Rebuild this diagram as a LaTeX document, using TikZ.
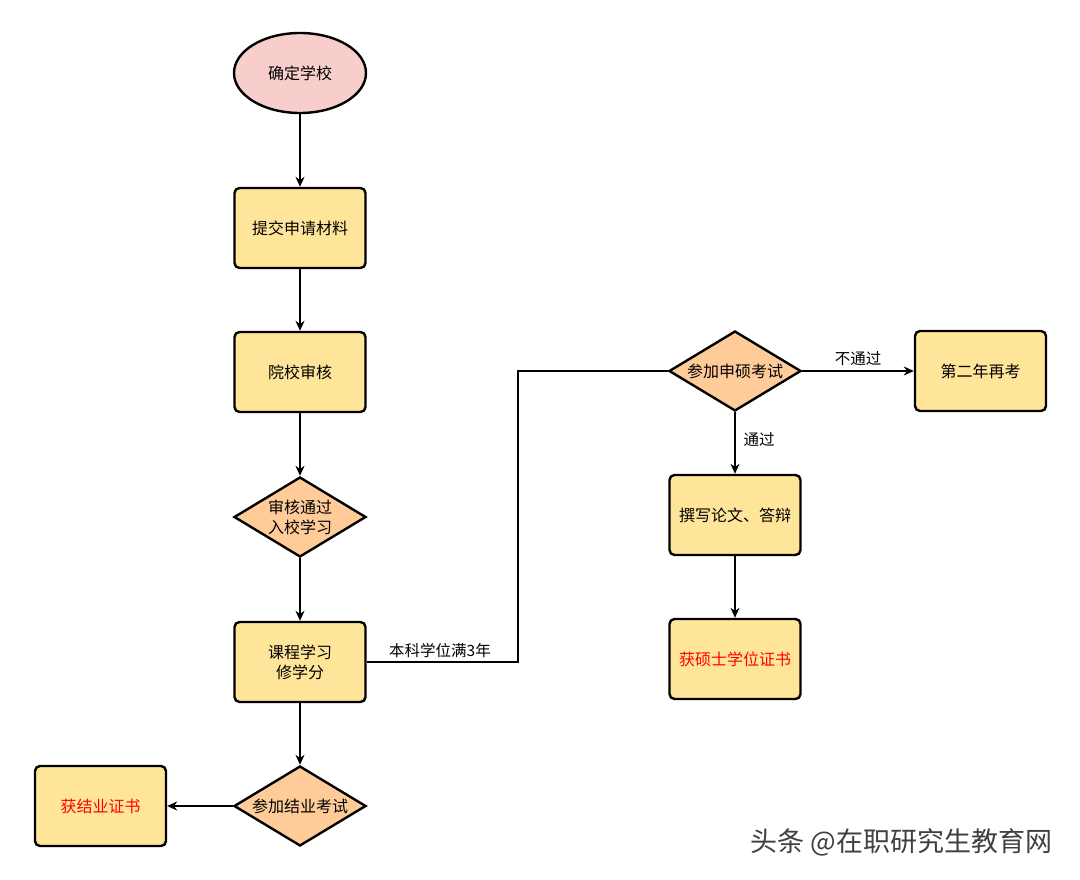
\documentclass[tikz,border=0pt]{standalone}
\usepackage{fontspec}
\setmainfont{Noto Sans CJK SC}
\usetikzlibrary{shapes.geometric,arrows.meta}
\definecolor{boxfill}{HTML}{FFE599}
\definecolor{dfill}{HTML}{FFCC99}
\definecolor{efill}{HTML}{F8CECC}
\tikzset{
  base/.style={draw=black, line width=2.4pt, font=\fontsize{16}{20}\selectfont, align=center, inner sep=0pt},
  proc/.style={base, rectangle, rounded corners=5pt, fill=boxfill, minimum width=131pt, minimum height=80pt},
  dec/.style={base, diamond, fill=dfill, minimum width=132pt, minimum height=80pt, aspect=1.65},
  term/.style={base, ellipse, fill=efill, minimum width=132pt, minimum height=80pt},
  conn/.style={draw=black, line width=1.3pt},
  arr/.style={conn, -{Stealth[length=10pt,width=9pt]}},
  lbl/.style={font=\fontsize{15.5}{18}\selectfont, inner sep=1pt}
}
\begin{document}
\begin{tikzpicture}[x=1pt,y=-1pt]
\useasboundingbox[fill=white] (0,0) rectangle (1080,880);
\node[term] (start) at (300,73) {确定学校};
\node[proc] (submit) at (300,228) {提交申请材料};
\node[proc] (review) at (300,372) {院校审核};
\node[dec] (pass) at (300,517) {审核通过\\入校学习};
\node[proc] (course) at (300,662) {课程学习\\修学分};
\node[dec] (exam) at (300,806) {参加结业考试};
\node[proc, text=red] (cert) at (100.5,806) {获结业证书};
\node[dec] (apply) at (735,371) {参加申硕考试};
\node[proc] (retry) at (980.5,371) {第二年再考};
\node[proc] (thesis) at (735,515) {撰写论文、答辩};
\node[proc, text=red] (degree) at (735,659) {获硕士学位证书};
\coordinate (c1) at (518,662);
\coordinate (c2) at (518,371);

\draw[arr] (start) -- (submit);
\draw[arr] (submit) -- (review);
\draw[arr] (review) -- (pass);
\draw[arr] (pass) -- (course);
\draw[arr] (course) -- (exam);
\draw[arr] (exam) -- (cert);
\draw[conn] (course.east) -- (c1) -- (c2) -- (apply.west);
\node[lbl] (l1) at (440,651) {本科学位满3年};
\draw[arr] (apply) -- node[lbl, above=4pt] (l2) {不通过} (retry);
\draw[arr] (apply) -- node[lbl, right=7pt, pos=0.45] (l3) {通过} (thesis);
\draw[arr] (thesis) -- (degree);
\node[font=\fontsize{27}{31}\selectfont, text=black!75, anchor=east] (wm) at (1056,842) {头条 @在职研究生教育网};
\end{tikzpicture}
\end{document}
